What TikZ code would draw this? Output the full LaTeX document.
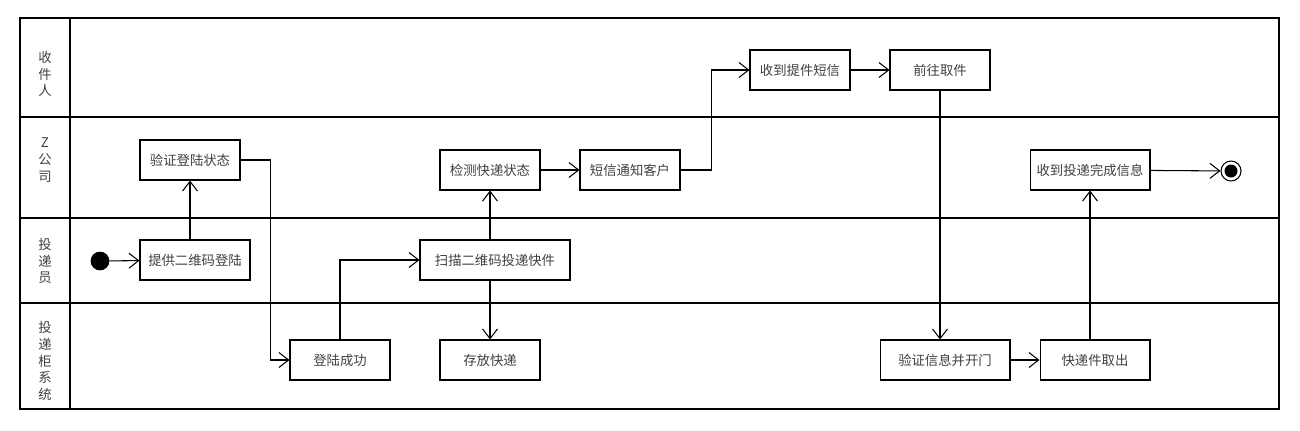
\documentclass[tikz,border=0pt]{standalone}
\usepackage{fontspec}
\setmainfont{Noto Sans CJK SC}
\usepackage{tikz}
\usetikzlibrary{arrows.meta, positioning, calc}

\begin{document}
\begin{tikzpicture}[
    x=0.02cm, y=-0.02cm,
    every node/.style={font=\fontsize{7.6pt}{9.6pt}\selectfont, text=black!75},
    act/.style={draw=black, line width=0.6pt, minimum height=0.8cm, minimum width=2cm, inner sep=1pt},
    flow/.style={line width=0.6pt, -{Straight Barb[length=5.5pt,width=8.5pt]}},
    lane/.style={line width=0.6pt},
    lanelabel/.style={align=center}
]
    \useasboundingbox (0,0) rectangle (1300,430);

    % --- Swimlanes ---
    \draw[lane] (20,18) rectangle (1279,409);
    \draw[lane] (20,117) -- (1279,117);
    \draw[lane] (20,218) -- (1279,218);
    \draw[lane] (20,303) -- (1279,303);
    \draw[line width=1.3pt] (70,18) -- (70,409); % label column

    \node[lanelabel] (laneA) at (45,74) {收\\件\\人};
    \node[lanelabel] (laneB) at (45,160) {Z\\公\\司};
    \node[lanelabel] (laneC) at (45,261) {投\\递\\员};
    \node[lanelabel] (laneD) at (45,361) {投\\递\\柜\\系\\统};

    % --- Activities ---
    \node[act] (check)  at (190,160) {验证登陆状态};
    \node[act, minimum width=2.2cm] (login) at (195,260) {提供二维码登陆};
    \node[act] (ok)     at (340,360) {登陆成功};
    \node[act] (detect) at (490,170) {检测快递状态};
    \node[act, minimum width=3cm] (scan) at (495,260) {扫描二维码投递快件};
    \node[act] (store)  at (490,360) {存放快递};
    \node[act] (sms)    at (630,170) {短信通知客户};
    \node[act] (recv)   at (800,70) {收到提件短信};
    \node[act] (go)     at (940,70) {前往取件};
    \node[act, minimum width=2.6cm] (verify) at (945,360) {验证信息并开门};
    \node[act, minimum width=2.2cm] (take)   at (1095,360) {快递件取出};
    \node[act, minimum width=2.4cm] (done)   at (1090,170) {收到投递完成信息};

    % start / end
    \node[circle, fill=black, draw=black, inner sep=0pt, minimum size=0.36cm] (start) at (100,261) {};
    \node[circle, draw=black, line width=0.6pt, inner sep=0pt, minimum size=0.4cm] (stop) at (1231,171) {};
    \fill[black] (stop.center) circle (0.13cm);

    % --- Flows ---
    \draw[flow] (start) -- (login);
    \draw[flow] (login.north -| check.south) -- (check.south);
    \draw[flow] (check.east) -- ++(30,0) |- (ok.west);
    \draw[flow] (ok.north) |- (scan.west);
    \draw[flow] (scan.north -| detect.south) -- (detect.south);
    \draw[flow] (scan.south -| store.north) -- (store.north);
    \draw[flow] (detect) -- (sms);
    \draw[flow] (sms.east) -- ++(31,0) |- (recv.west);
    \draw[flow] (recv) -- (go);
    \draw[flow] (go.south) -- (go.south |- verify.north);
    \draw[flow] (verify) -- (take);
    \draw[flow] (take.north -| done.south) -- (done.south);
    \draw[flow] (done) -- (stop);
\end{tikzpicture}
\end{document}
